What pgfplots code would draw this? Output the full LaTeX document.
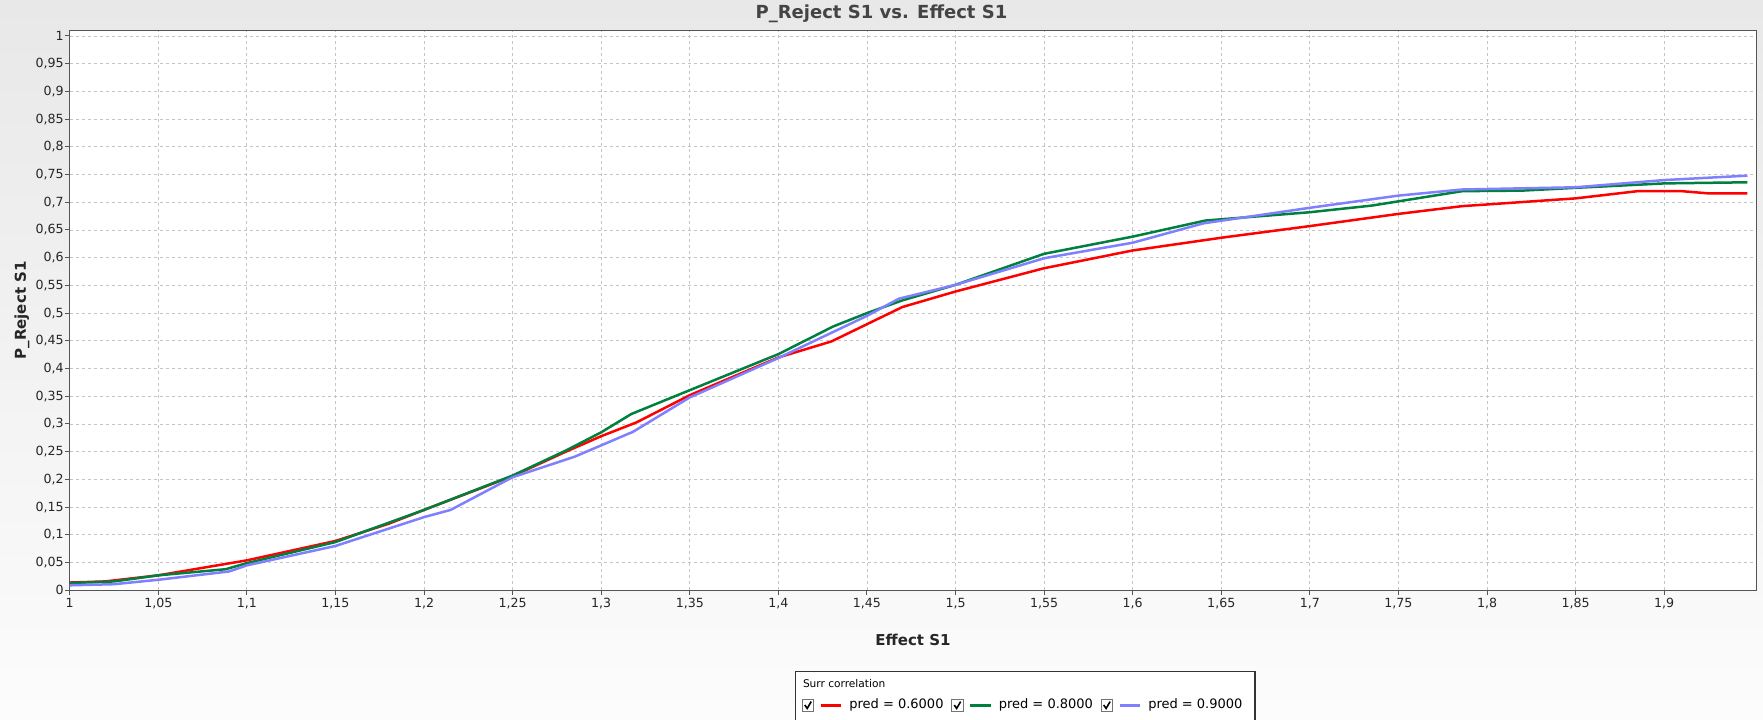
\documentclass[border=0pt]{standalone}
\usepackage{pgfplots}
\pgfplotsset{compat=1.18}
\usepackage{fontspec}
\setmainfont{DejaVu Sans}
\definecolor{bgtop}{HTML}{E8E8E8}
\definecolor{bgbot}{HTML}{FCFCFC}
\definecolor{cred}{HTML}{FF0000}
\definecolor{cgreen}{HTML}{00803F}
\definecolor{cblue}{HTML}{8080FF}
\definecolor{gridc}{HTML}{C4C4C4}
\definecolor{framec}{HTML}{555555}
\definecolor{titlec}{HTML}{444444}
\begin{document}
\begin{tikzpicture}
\useasboundingbox (0,0) rectangle (881.5pt,359.5pt);
\clip (0,0) rectangle (881.5pt,359.5pt);
\shade[top color=bgtop, bottom color=bgbot] (0,0) rectangle (881.5pt,359.5pt);
\draw[black!80, line width=0.6pt, fill=white] (397.8pt,-5pt) rectangle (627.5pt,23.65pt);
\node[anchor=west, inner sep=0pt, font=\fontsize{5.3}{6}\selectfont] at (401.3pt,17.5pt) {Surr correlation};
\node[font=\bfseries\fontsize{9}{10}\selectfont, text=titlec] at (440.75pt,352.75pt) {P\_Reject S1 vs. Effect S1};
\begin{axis}[
  at={(34.85pt,64.35pt)}, anchor=south west,
  scale only axis, width=843.3pt, height=279.95pt,
  xmin=1, xmax=1.952, ymin=0, ymax=1.01,
  axis background/.style={fill=white},
  axis line style={draw=framec, line width=0.7pt},
  tick pos=left, tick align=outside,
  major tick length=2.2pt,
  every tick/.style={framec, line width=0.5pt},
  xtick={1,1.05,1.1,1.15,1.2,1.25,1.3,1.35,1.4,1.45,1.5,1.55,1.6,1.65,1.7,1.75,1.8,1.85,1.9},
  ytick={0,0.05,0.1,0.15,0.2,0.25,0.3,0.35,0.4,0.45,0.5,0.55,0.6,0.65,0.7,0.75,0.8,0.85,0.9,0.95,1},
  scaled ticks=false,
  /pgf/number format/.cd, use comma, fixed, precision=2, assume math mode=true,
  /pgfplots/.cd,
  ticklabel style={font=\fontsize{6.3}{7}\selectfont, text=black!85},
  yticklabel style={inner xsep=0.6pt},
  xticklabel style={inner ysep=1.5pt},
  grid=major,
  major grid style={gridc, dash pattern=on 1.5pt off 1.5pt, line width=0.4pt},
  xlabel={Effect S1},
  ylabel={P\_Reject S1},
  label style={font=\bfseries\fontsize{7.5}{9}\selectfont, text=black!85},
  xlabel style={at={(axis description cs:0.5,0)}, anchor=center, yshift=-24.85pt},
  ylabel style={at={(axis description cs:-0.0283,0.5)}, anchor=center},
  legend columns=3,
  legend style={at={(rel axis cs:0.4340,-0.2056)}, anchor=west, draw=none, fill=none,
    inner sep=0pt, outer sep=0pt,
    font=\fontsize{6.5}{7}\selectfont,
    nodes={inner sep=0pt},
    /tikz/every odd column/.append style={column sep=3.5pt},
    /tikz/every even column/.append style={column sep=3.8pt}},
  legend cell align=left,
  legend image code/.code={
    \draw[black!55, fill=white, line width=0.5pt] (0pt,-2.85pt) rectangle (5.7pt,2.85pt);
    \draw[black, line width=0.8pt, line join=miter] (1.3pt,0.2pt) -- (2.5pt,-1.5pt) -- (4.5pt,1.9pt);
    \draw[#1] (9.2pt,0pt) -- (19.45pt,0pt);
  },
]
\addplot[cred, line width=1.25pt] coordinates {
(1.0,0.014) (1.02,0.016) (1.05,0.027) (1.1,0.054) (1.15,0.089) (1.18,0.12)
(1.2,0.145) (1.25,0.206) (1.28,0.25) (1.3,0.278) (1.32,0.303) (1.35,0.352)
(1.4,0.42) (1.43,0.449) (1.47,0.511) (1.5,0.539) (1.55,0.581) (1.6,0.613)
(1.65,0.636) (1.7,0.657) (1.75,0.679) (1.786,0.693) (1.8,0.696) (1.85,0.707)
(1.885,0.72) (1.91,0.72) (1.925,0.716) (1.947,0.716)
};
\addlegendentry{pred = 0.6000}
\addplot[cgreen, line width=1.25pt] coordinates {
(1.0,0.013) (1.025,0.016) (1.05,0.027) (1.088,0.038) (1.1,0.049) (1.15,0.087)
(1.2,0.145) (1.25,0.207) (1.28,0.252) (1.3,0.285) (1.317,0.318) (1.35,0.361)
(1.4,0.426) (1.431,0.476) (1.45,0.50) (1.47,0.523) (1.5,0.551) (1.55,0.607)
(1.6,0.638) (1.641,0.667) (1.7,0.682) (1.735,0.694) (1.786,0.72) (1.82,0.721)
(1.85,0.726) (1.9,0.734) (1.947,0.736)
};
\addlegendentry{pred = 0.8000}
\addplot[cblue, line width=1.25pt] coordinates {
(1.0,0.009) (1.025,0.011) (1.05,0.019) (1.09,0.034) (1.1,0.045) (1.15,0.08)
(1.2,0.132) (1.215,0.145) (1.25,0.204) (1.285,0.241) (1.318,0.286) (1.35,0.348)
(1.4,0.419) (1.45,0.495) (1.468,0.526) (1.5,0.551) (1.55,0.599) (1.6,0.627)
(1.64,0.662) (1.7,0.69) (1.75,0.712) (1.786,0.723) (1.85,0.727) (1.9,0.740)
(1.947,0.748)
};
\addlegendentry{pred = 0.9000}
\end{axis}
\end{tikzpicture}
\end{document}
